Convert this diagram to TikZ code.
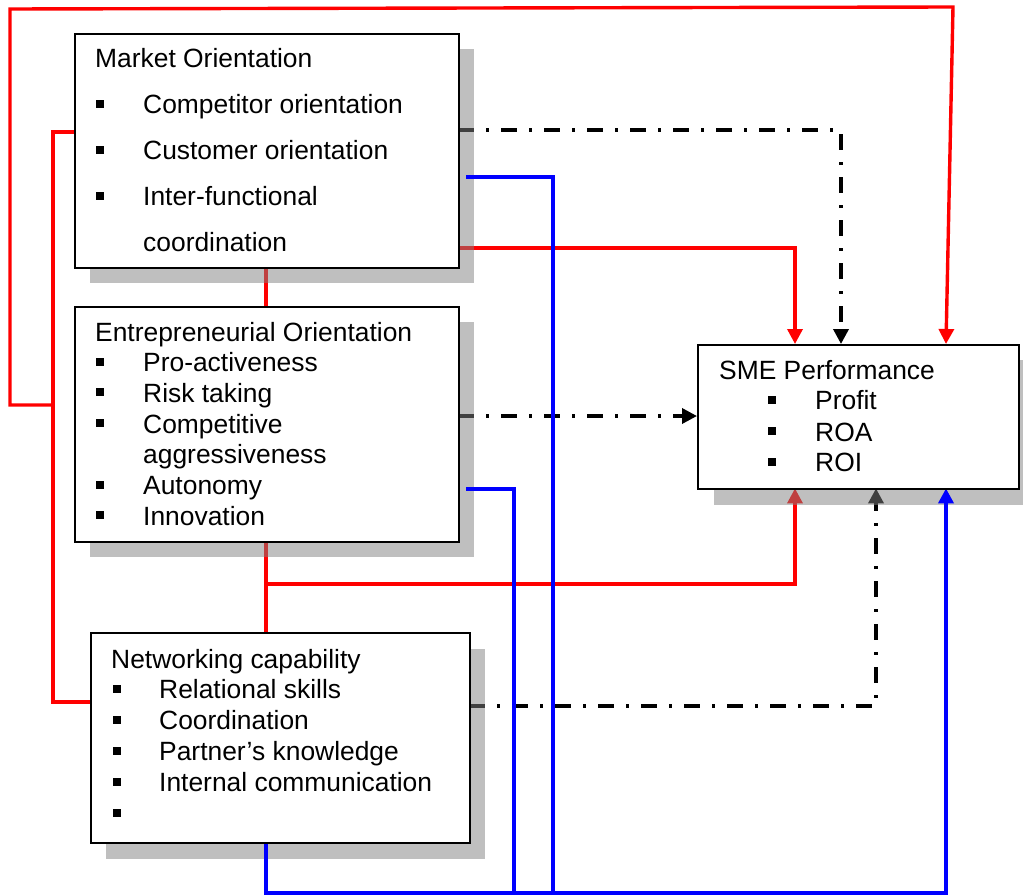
\documentclass[tikz,border=0pt]{standalone}
\usepackage{fontspec}
\setmainfont{Liberation Sans}
\usetikzlibrary{arrows.meta,calc}
\definecolor{shgray}{RGB}{128,128,128}
\begin{document}
\begin{tikzpicture}[x=1pt,y=-1pt,
  box/.style={draw=black,line width=2pt,fill=white,rectangle,anchor=north west,inner sep=0pt},
  shadowbox/.style={fill=shgray,fill opacity=0.5,rectangle,anchor=north west,inner sep=0pt},
  txt/.style={anchor=base west,inner sep=0pt,font=\fontsize{26.4}{30}\selectfont},
  blt/.style={fill=black,rectangle,minimum size=8.5pt,inner sep=0pt},
  rl/.style={draw=red,line width=3.4pt},
  kl/.style={draw=black,line width=3.5pt,dash pattern=on 16pt off 12pt on 3pt off 12pt},
  bl/.style={draw=blue,line width=4pt},
  tip/.style={-{Triangle[width=15pt,length=15pt]}}]
\useasboundingbox (0,0) rectangle (1023,896);

% box placeholders (positions used by connectors)
\path (74,33) node[anchor=north west,minimum width=384pt,minimum height=234pt,inner sep=0pt] (mo) {};
\path (74,306) node[anchor=north west,minimum width=384pt,minimum height=235pt,inner sep=0pt] (eo) {};
\path (90,632) node[anchor=north west,minimum width=379pt,minimum height=210pt,inner sep=0pt] (nc) {};
\path (697,344) node[anchor=north west,minimum width=321pt,minimum height=144pt,inner sep=0pt] (sme) {};
\coordinate (jL) at (53,405);
\coordinate (jE) at (266,584);

% red connectors
\draw[rl] ($(mo.north west)+(0,99)$) -- ++(-21,0) |- ($(nc.north west)+(0,70)$);
\draw[rl,tip] (jL) -- (10,405) -- (10,9) -- (953,7) -- (sme.north -| 946,0);
\draw[rl] (mo.south -| 266,0) -- (eo.north -| 266,0);
\draw[rl] (eo.south -| 266,0) -- (nc.north -| 266,0);
\draw[rl,tip] (jE) -| (sme.south -| 795,0);
\draw[rl,tip] (mo.east |- 0,248) -| (sme.north -| 795,0);

% black dash-dot connectors
\draw[kl] (mo.east |- 0,130) -| (841,330);
\draw[black,line width=3.5pt,tip] (841,331) -- (sme.north -| 841,0);
\draw[kl] (eo.east |- 0,416) -- (682,416);
\draw[black,line width=3.5pt,tip] (683,416) -- (sme.west |- 0,416);
\draw[kl] (nc.east |- 0,706) -| (876,504);
\draw[black,line width=3.5pt,tip] (876,503) -- (sme.south -| 876,0);

% shadows
\node[shadowbox,minimum width=384pt,minimum height=234pt] (mos) at (90,49) {};
\node[shadowbox,minimum width=384pt,minimum height=235pt] (eos) at (90,322) {};
\node[shadowbox,minimum width=379pt,minimum height=210pt] (ncs) at (106,649) {};
\node[shadowbox,minimum width=309pt,minimum height=145pt] (smes) at (714,360) {};

% blue connectors
\draw[bl] ($(mo.east |- 0,177)+(8,0)$) -| (553,893);
\draw[bl] ($(eo.east |- 0,489)+(8,0)$) -| (514,893);
\draw[bl,tip] (nc.south -| 266,0) -- (266,893) -| (sme.south -| 946,0);

% boxes
\node[box,minimum width=384pt,minimum height=234pt] (mob) at (74,33) {};
\node[box,minimum width=384pt,minimum height=235pt] (eob) at (74,306) {};
\node[box,minimum width=379pt,minimum height=210pt] (ncb) at (90,632) {};
\node[box,minimum width=321pt,minimum height=144pt] (smeb) at (697,344) {};

% Market Orientation
\node[txt] (mo0) at (95,68) {Market Orientation};
\node[blt] (mob1) at (100,104) {};
\node[txt] (mo1) at (143,114) {Competitor orientation};
\node[blt] (mob2) at (100,150) {};
\node[txt] (mo2) at (143,160) {Customer orientation};
\node[blt] (mob3) at (100,196) {};
\node[txt] (mo3) at (143,206) {Inter-functional};
\node[txt] (mo4) at (143,252) {coordination};

% Entrepreneurial Orientation
\node[txt] (eo0) at (95,341) {Entrepreneurial Orientation};
\node[blt] (eob1) at (100,362) {};
\node[txt] (eo1) at (143,371) {Pro-activeness};
\node[blt] (eob2) at (100,392) {};
\node[txt] (eo2) at (143,402) {Risk taking};
\node[blt] (eob3) at (100,423) {};
\node[txt] (eo3) at (143,433) {Competitive};
\node[txt] (eo4) at (143,463) {aggressiveness};
\node[blt] (eob5) at (100,485) {};
\node[txt] (eo5) at (143,494) {Autonomy};
\node[blt] (eob6) at (100,515) {};
\node[txt] (eo6) at (143,525) {Innovation};

% Networking capability
\node[txt] (nc0) at (111,668) {Networking capability};
\node[blt] (ncb1) at (117,689) {};
\node[txt] (nc1) at (159,698) {Relational skills};
\node[blt] (ncb2) at (117,720) {};
\node[txt] (nc2) at (159,729) {Coordination};
\node[blt] (ncb3) at (117,751) {};
\node[txt] (nc3) at (159,760) {Partner’s knowledge};
\node[blt] (ncb4) at (117,782) {};
\node[txt] (nc4) at (159,791) {Internal communication};
\node[blt] (ncb5) at (117,813) {};

% SME Performance
\node[txt] (sme0) at (719,379) {SME Performance};
\node[blt] (smeb1) at (772,400) {};
\node[txt] (sme1) at (815,409) {Profit};
\node[blt] (smeb2) at (772,431) {};
\node[txt] (sme2) at (815,441) {ROA};
\node[blt] (smeb3) at (772,462) {};
\node[txt] (sme3) at (815,471) {ROI};
\end{tikzpicture}
\end{document}
